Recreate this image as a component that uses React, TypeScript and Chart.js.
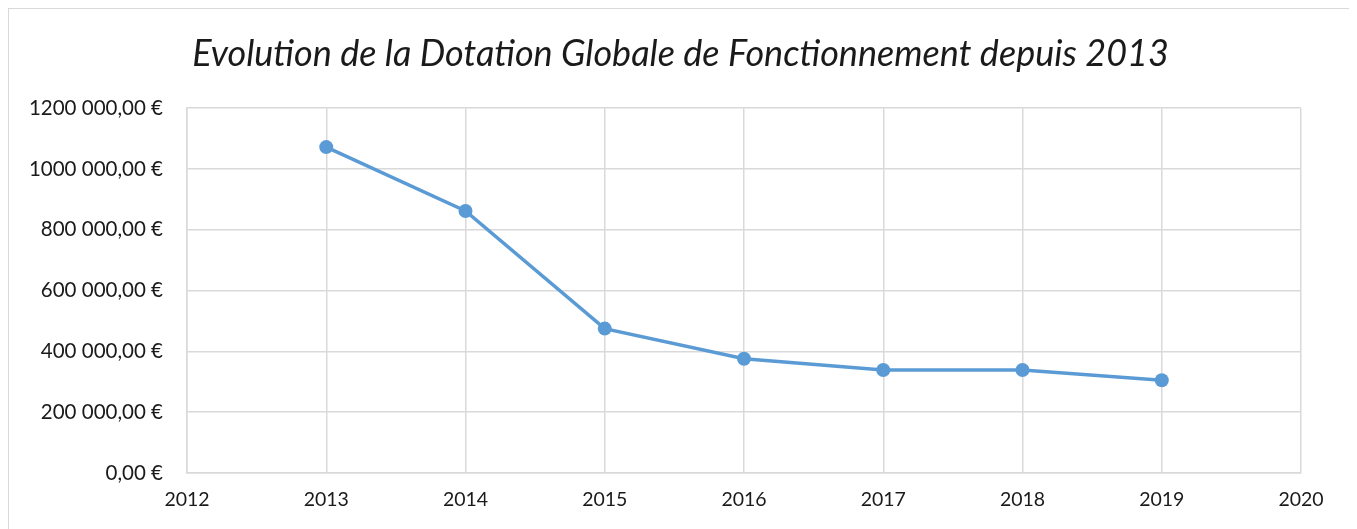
import React, { useEffect, useRef } from "react";
import { Chart, registerables } from "chart.js";

Chart.register(...registerables);

const years = [2013, 2014, 2015, 2016, 2017, 2018, 2019];
const dotation = [1072000, 862000, 475000, 376000, 339000, 339000, 305000];
const yTicks = [0, 200000, 400000, 600000, 800000, 1000000, 1200000];
const xRange = [2012, 2020];
const title = "Evolution de la Dotation Globale de Fonctionnement depuis 2013";

function formatEuro(v: number): string {
  if (v === 0) return "0,00 €";
  const thousands = Math.floor(v / 1000);
  const rest = String(v % 1000).padStart(3, "0");
  return `${thousands} ${rest},00 €`;
}

export default function App() {
  const ref = useRef<HTMLCanvasElement | null>(null);
  useEffect(() => {
    if (!ref.current) return;
    const font = "Lato, 'Open Sans', sans-serif";
    const chart = new Chart(ref.current, {
      type: "line",
      data: {
        datasets: [
          {
            label: "DGF",
            data: years.map((y, i) => ({ x: y, y: dotation[i] })),
            borderColor: "#5b9bd5",
            backgroundColor: "#5b9bd5",
            borderWidth: 3.5,
            pointRadius: 7,
            pointBorderWidth: 0,
            pointBackgroundColor: "#5b9bd5",
            tension: 0,
          },
        ],
      },
      options: {
        animation: false,
        responsive: true,
        maintainAspectRatio: false,
        layout: { padding: { left: 0, right: 0, top: 0, bottom: 0 } },
        plugins: {
          legend: { display: false },
          tooltip: { enabled: false },
          title: {
            display: true,
            text: title,
            color: "#1a1a1a",
            font: { family: font, size: 36, style: "italic", weight: "normal" },
            padding: { top: 24, bottom: 32 },
          },
        },
        scales: {
          x: {
            type: "linear",
            min: xRange[0],
            max: xRange[1],
            afterFit: (s: any) => {
              s.height = 66;
            },
            ticks: {
              stepSize: 1,
              padding: 15,
              color: "#1a1a1a",
              font: { family: font, size: 19.5 },
              callback: (v: any) => String(v),
            },
            grid: { color: "#d9d9d9", lineWidth: 1.5, drawTicks: false },
            border: { color: "#d9d9d9", width: 1.5 },
          },
          y: {
            min: yTicks[0],
            max: yTicks[yTicks.length - 1],
            afterFit: (s: any) => {
              s.width = 178;
            },
            afterBuildTicks: (s: any) => {
              s.ticks = yTicks.map((v) => ({ value: v }));
            },
            ticks: {
              padding: 24,
              color: "#1a1a1a",
              font: { family: font, size: 20.5 },
              callback: (v: any) => formatEuro(Number(v)),
            },
            grid: { color: "#d9d9d9", lineWidth: 1.5, drawTicks: false },
            border: { color: "#d9d9d9", width: 1.5 },
          },
          yRight: {
            position: "right",
            display: true,
            min: yTicks[0],
            max: yTicks[yTicks.length - 1],
            afterFit: (s: any) => {
              s.width = 51;
            },
            ticks: { display: false },
            grid: { display: false, drawTicks: false },
            border: { display: false },
          },
        },
      },
    });
    return () => chart.destroy();
  }, []);
  return (
    <div
      style={{
        border: "1px solid #d9d9d9",
        width: 1343,
        height: 530,
        background: "#fff",
      }}
    >
      <div style={{ position: "relative", width: "100%", height: "100%" }}>
        <canvas ref={ref} />
      </div>
    </div>
  );
}
